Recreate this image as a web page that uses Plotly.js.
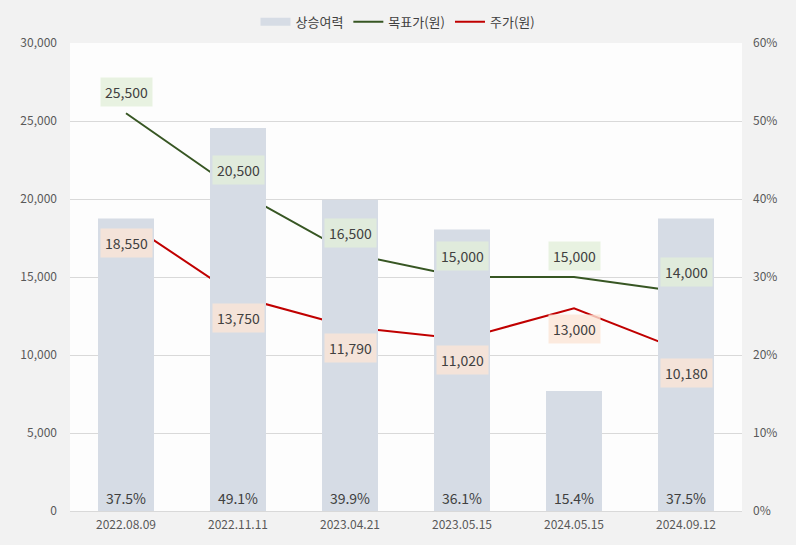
<!DOCTYPE html>
<html><head><meta charset="utf-8">
<script src="https://cdn.plot.ly/plotly-3.0.1.min.js"></script>
<style>body{margin:0;background:#f2f2f2}#c{width:796px;height:545px}</style>
</head><body><div id="c"></div>
<script>
const categories = ['2022.08.09','2022.11.11','2023.04.21','2023.05.15','2024.05.15','2024.09.12'];
const upside = [37.5, 49.1, 39.9, 36.1, 15.4, 37.5];
const target = [25500, 20500, 16500, 15000, 15000, 14000];
const price = [18550, 13750, 11790, 11020, 13000, 10180];
const fontFam = '"Noto Sans CJK KR", "Noto Sans", sans-serif';
const fmt = v => v.toLocaleString('en-US');

const traces = [
  {type:'bar', name:'상승여력', x:categories, y:upside, yaxis:'y2', width:0.5, showlegend:false,
   marker:{color:'#d6dce5'}, text:upside.map(v=>v.toFixed(1)+'%'),
   textposition:'inside', insidetextanchor:'start',
   textfont:{size:14, color:'#404040', family:fontFam}, hoverinfo:'skip'},
  {type:'scatter', mode:'lines', name:'상승여력', x:[null], y:[null], yaxis:'y2',
   line:{color:'#d6dce5', width:8}},
  {type:'scatter', mode:'lines', name:'목표가(원)', x:categories, y:target,
   line:{color:'#375623', width:2}},
  {type:'scatter', mode:'lines', name:'주가(원)', x:categories, y:price,
   line:{color:'#c00000', width:2}}
];
const ann = [];
categories.forEach((c,i)=>{
  ann.push({x:c, y:target[i], xref:'x', yref:'y', text:fmt(target[i]), showarrow:false,
    yshift:21, bgcolor:'rgba(226,239,218,0.8)', borderpad:4, font:{size:14, color:'#404040', family:fontFam}});
  ann.push({x:c, y:price[i], xref:'x', yref:'y', text:fmt(price[i]), showarrow:false,
    yshift:-21, bgcolor:'rgba(251,229,214,0.8)', borderpad:4, font:{size:14, color:'#404040', family:fontFam}});
});
const layout = {
  width:796, height:545,
  margin:{l:70, r:54, t:43, b:34},
  paper_bgcolor:'#f2f2f2', plot_bgcolor:'#fdfdfd',
  font:{family:fontFam, color:'#595959', size:12},
  showlegend:true,
  legend:{orientation:'h', x:0.5, xanchor:'center', xref:'container', y:0.96, yanchor:'middle', yref:'container',
    font:{size:13, color:'#404040'}, traceorder:'normal', itemwidth:30},
  xaxis:{type:'category', showgrid:false, showline:true, linecolor:'#d9d9d9', linewidth:1,
    ticks:'', tickfont:{size:12, color:'#595959'}, ticklabelstandoff:3},
  yaxis:{range:[0,30000], dtick:5000, tickformat:',', gridcolor:'#d9d9d9', zeroline:false,
    showline:false, ticks:'', ticklabelstandoff:12, fixedrange:true},
  yaxis2:{range:[0,60], dtick:10, ticksuffix:'%', overlaying:'y', side:'right', showgrid:false,
    zeroline:false, showline:false, ticks:'', ticklabelstandoff:10},
  annotations:ann,
  bargap:0.5
};
Plotly.newPlot('c', traces, layout, {displayModeBar:false, staticPlot:true});
</script></body></html>
